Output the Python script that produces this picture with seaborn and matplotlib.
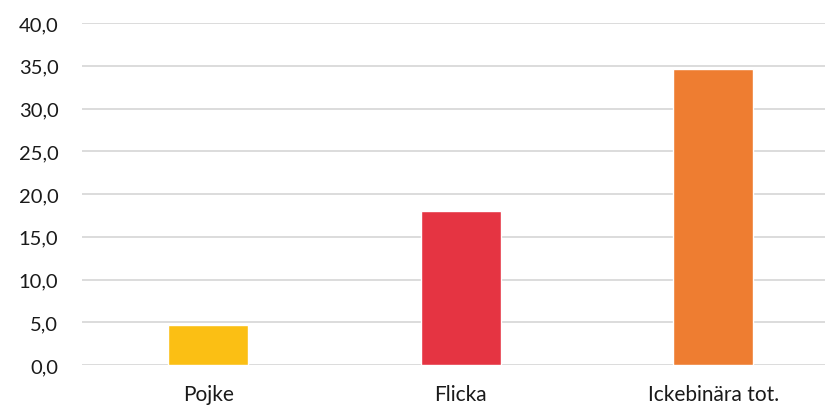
import pandas as pd
import seaborn as sns
import matplotlib.pyplot as plt
from matplotlib.ticker import FuncFormatter

categories = ["Pojke", "Flicka", "Ickebinära tot."]
values = [4.7, 18.0, 34.6]
colors = ["#FBBF14", "#E53442", "#EE7D31"]

df = pd.DataFrame({"kategori": categories, "andel": values})

sns.set_style("white")
plt.rcParams["font.family"] = ["Lato", "DejaVu Sans"]

fig = plt.figure(figsize=(8.25, 4.06), dpi=100)
ax = fig.add_axes([82 / 825, 40 / 406, 757.5 / 825, 342 / 406])

sns.barplot(data=df, x="kategori", y="andel", hue="kategori", palette=colors,
            legend=False, width=0.317, saturation=1, ax=ax)

ax.set_ylim(0, 40)
ax.set_yticks(range(0, 41, 5))
ax.yaxis.set_major_formatter(FuncFormatter(lambda v, p: f"{v:.1f}".replace(".", ",")))
ax.grid(True, axis="y", color="#d9d9d9", linewidth=1.3)
ax.set_axisbelow(True)
for s in ax.spines.values():
    s.set_visible(False)
ax.tick_params(axis="y", length=0, pad=17, labelsize=14.5, labelcolor="#1a1a1a")
ax.tick_params(axis="x", length=0, pad=13.5, labelsize=15, labelcolor="#1a1a1a")
ax.set_xlabel("")
ax.set_ylabel("")

fig.savefig("out.png", dpi=100)
